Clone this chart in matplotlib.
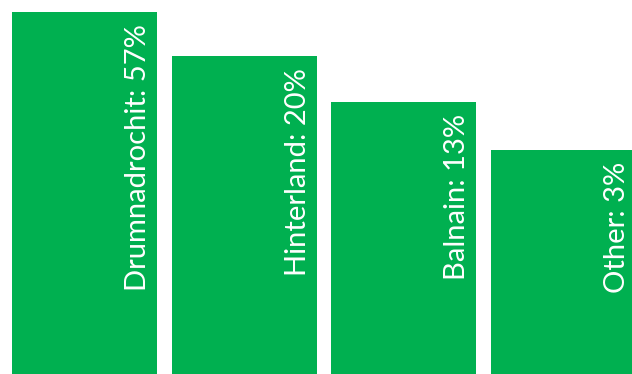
import matplotlib
matplotlib.use("Agg")
import matplotlib.pyplot as plt

# bar heights (pixel rows from the baseline), labels carry the shares
places = ["Drumnadrochit", "Hinterland", "Balnain", "Other"]
shares = [57, 20, 13, 3]
heights = [362, 318, 272, 224]

plt.rcParams['font.family'] = ['Lato', 'DejaVu Sans']

fig = plt.figure(figsize=(6.32, 3.74), dpi=100)
ax = fig.add_axes([0, 0, 1, 1])

xs = list(range(len(places)))
bars = ax.bar(xs, heights, width=0.908, color="#00B050", linewidth=0)

for b, name, s in zip(bars, places, shares):
    ax.annotate(f"{name}: {s}%",
                xy=(b.get_x() + b.get_width(), b.get_height()),
                xytext=(-6, -12), textcoords="offset pixels",
                rotation=90, ha="right", va="top",
                color="white", fontsize=21,
                annotation_clip=False)

ax.set_xlim(-0.529, 3.43)
ax.set_ylim(0, 374)
ax.axis("off")

fig.savefig("out.png", dpi=100)
